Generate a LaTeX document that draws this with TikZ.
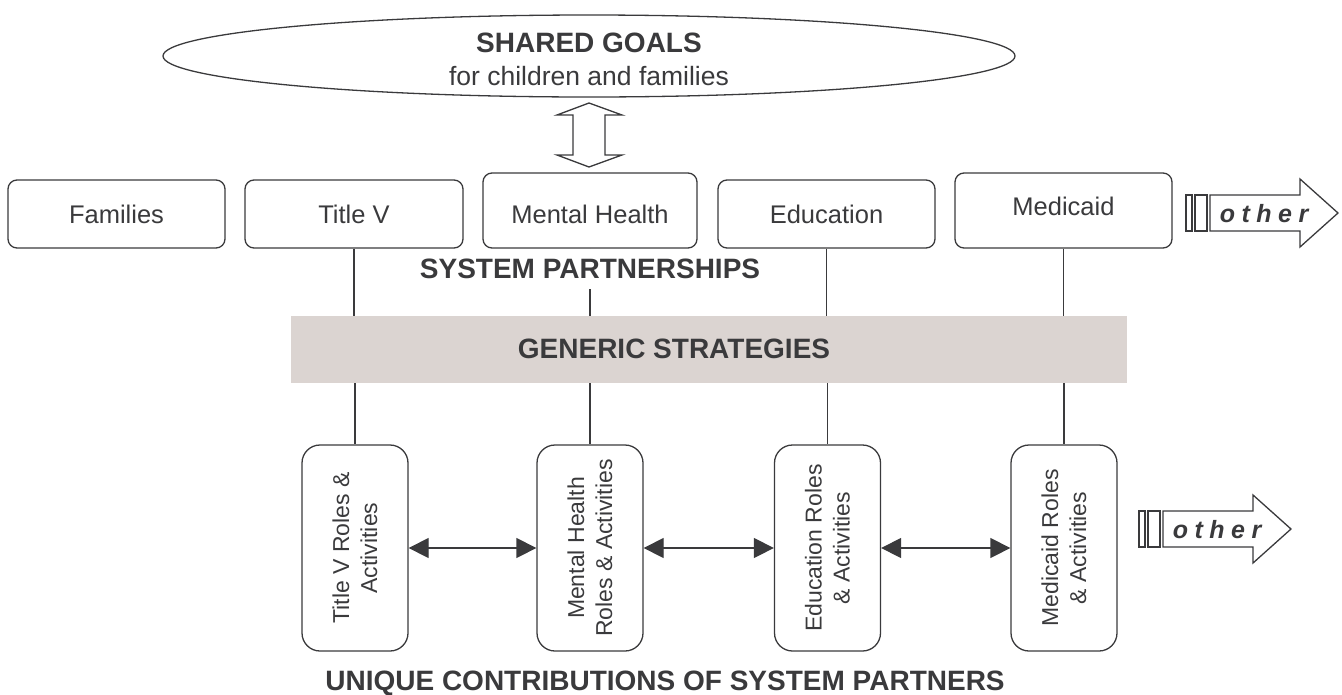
\documentclass[tikz,border=0pt]{standalone}
\usepackage{fontspec}
\setmainfont{Liberation Sans}
\usetikzlibrary{shapes.geometric,arrows.meta}
\definecolor{ink}{HTML}{3A3A3C}
\definecolor{bandfill}{HTML}{DBD4D1}
\tikzset{
  every node/.style={text=ink},
  topbox/.style={draw=ink, line width=1.3pt, rounded corners=9pt, inner sep=0pt, font=\fontsize{25.5}{30}\selectfont},
  botbox/.style={draw=ink, line width=1.3pt, rounded corners=18pt, minimum width=106pt, minimum height=206pt, inner sep=0pt},
  lbl/.style={font=\fontsize{25.5}{30}\selectfont, inner sep=0pt},
  sublbl/.style={font=\fontsize{26.5}{31}\selectfont, inner sep=0pt},
  vlbl/.style={font=\fontsize{23}{28}\selectfont, rotate=90, align=center, inner sep=0pt},
  title/.style={font=\bfseries\fontsize{28}{33}\selectfont, inner sep=0pt},
  conn/.style={draw=ink, line width=1.3pt},
  biarrow/.style={conn, {Triangle[length=20pt,width=20pt]}-{Triangle[length=20pt,width=20pt]}},
  outline/.style={draw=ink, line width=1.3pt, fill=white, line join=miter},
  otherlbl/.style={font=\bfseries\itshape\fontsize{25}{30}\selectfont, inner sep=0pt},
  pics/otherarrow/.style={code={
    \draw[outline] (0,-18) rectangle (6,18);
    \draw[outline] (9,-18) rectangle (21,18);
    \draw[outline] (24,-18) -- (114,-18) -- (114,-34) -- (152,0) -- (114,34) -- (114,18) -- (24,18) -- cycle;
    \node[otherlbl] (-lbl) at (78,1) {o\hspace{6.5pt}t\hspace{6.5pt}h\hspace{6.5pt}e\hspace{6.5pt}r};
  }}
}
\begin{document}
\begin{tikzpicture}[x=1pt,y=-1pt]
\useasboundingbox (0,0) rectangle (1342,694);

% shared goals ellipse
\node[ellipse, draw=ink, line width=1.3pt, minimum width=852pt, minimum height=82pt, inner sep=0pt] (goals) at (589,56) {};
\node[title] (goalsT) at (589,43) {SHARED GOALS};
\node[sublbl] (goalsS) at (589,76) {for children and families};

% double block arrow
\draw[outline] (589,103) -- (622,115) -- (605,115) -- (605,155) -- (622,155) -- (589,167)
  -- (557,155) -- (573,155) -- (573,115) -- (557,115) -- cycle;

% top row of partners
\node[topbox, minimum width=217pt, minimum height=68pt] (tfa) at (116.5,214) {Families};
\node[topbox, minimum width=218pt, minimum height=68pt] (ttv) at (354,214) {Title V};
\node[topbox, minimum width=214pt, minimum height=75pt] (tmh) at (590,210.5) {};
\node[lbl] (tmhT) at (590,214) {Mental Health};
\node[topbox, minimum width=217pt, minimum height=68pt] (ted) at (826.5,214) {Education};
\node[topbox, minimum width=217pt, minimum height=75pt] (tmd) at (1063.5,210.5) {};
\node[lbl] (tmdT) at (1063.5,206) {Medicaid};

% band
\node[fill=bandfill, minimum width=836pt, minimum height=67pt, inner sep=0pt] (band) at (709,349.5) {};
\node[title] (bandT) at (674,349) {GENERIC STRATEGIES};

% bottom row
\node[botbox] (btv) at (355,548) {};
\node[botbox] (bmh) at (590,548) {};
\node[botbox] (bed) at (827.5,548) {};
\node[botbox] (bmd) at (1064,548) {};
\node[vlbl] (btvT) at (btv) {Title V Roles \&\\Activities};
\node[vlbl] (bmhT) at (bmh) {Mental Health\\Roles \& Activities};
\node[vlbl] (bedT) at (bed) {Education Roles\\\& Activities};
\node[vlbl] (bmdT) at (bmd) {Medicaid Roles\\\& Activities};

% connectors
\draw[conn] (ttv.south) -- (ttv.south |- band.north);
\draw[conn] (tmh.south) -- (tmh.south |- band.north);
\draw[conn] (ted.south) -- (ted.south |- band.north);
\draw[conn] (tmd.south) -- (tmd.south |- band.north);
\draw[conn] (band.south -| btv.north) -- (btv.north);
\draw[conn] (band.south -| bmh.north) -- (bmh.north);
\draw[conn] (band.south -| bed.north) -- (bed.north);
\draw[conn] (band.south -| bmd.north) -- (bmd.north);
\draw[biarrow] (btv.east) -- (bmh.west);
\draw[biarrow] (bmh.east) -- (bed.west);
\draw[biarrow] (bed.east) -- (bmd.west);

\node[title, fill=white, inner xsep=6pt, inner ysep=10pt] (sp) at (590,269) {SYSTEM PARTNERSHIPS};

% other arrows
\pic (oatop) at (1186,213) {otherarrow};
\pic (oabot) at (1139,529) {otherarrow};

\node[title] (unique) at (665,683) {UNIQUE CONTRIBUTIONS OF SYSTEM PARTNERS};
\end{tikzpicture}
\end{document}
